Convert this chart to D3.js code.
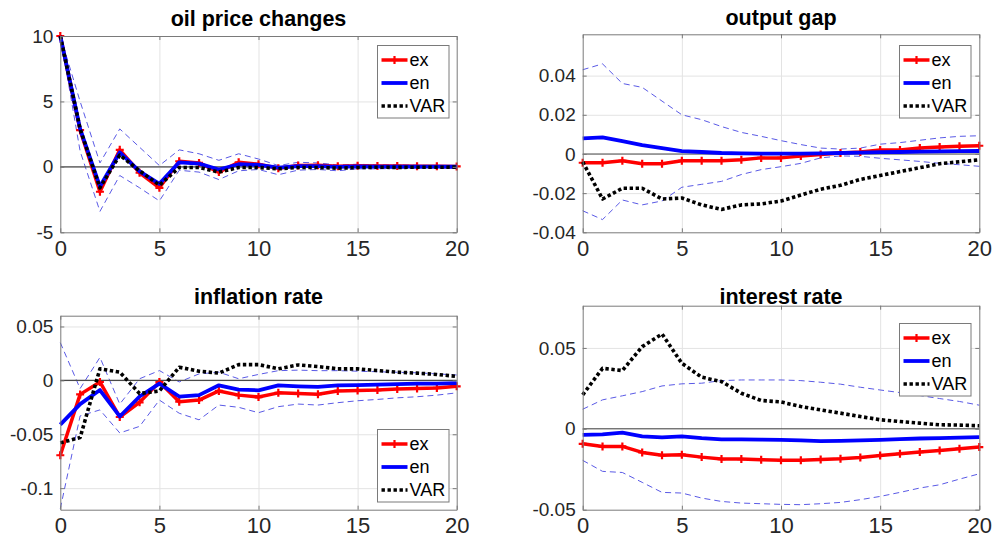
<!DOCTYPE html>
<html>
<head>
<meta charset="utf-8">
<script src="https://cdn.jsdelivr.net/npm/d3@7"></script>
<style>
  body { margin: 0; background: #fff; }
  svg { display: block; font-family: "Liberation Sans", Arial, sans-serif; }
</style>
</head>
<body>
<svg id="chart" width="994" height="538"></svg>
<script>

/////// Data

var horizon = [0, 1, 2, 3, 4, 5, 6, 7, 8, 9, 10, 11, 12, 13, 14, 15, 16, 17, 18, 19, 20];
var xTicks = [0, 5, 10, 15, 20];
var seriesNames = ['ex', 'en', 'VAR'];

// oil price changes
var oilEx  = [10, 2.8, -1.9, 1.3, -0.45, -1.6, 0.43, 0.3, -0.4, 0.35, 0.2, -0.1, 0.1, 0.12, 0.05, 0.08, 0.06, 0.07, 0.05, 0.05, 0.03];
var oilEn  = [10, 2.9, -1.5, 1.1, -0.35, -1.3, 0.35, 0.25, -0.2, 0.2, 0.15, -0.05, 0.05, 0.05, 0, 0.03, 0.02, 0.02, 0.02, 0.02, 0.01];
var oilVar = [10, 2.9, -1.6, 0.9, -0.3, -1.4, -0.05, -0.05, -0.4, -0.05, -0.05, -0.15, -0.05, -0.05, -0.1, -0.05, -0.03, -0.04, -0.03, -0.03, -0.02];
var oilUp  = [10, 5.0, 0.3, 2.9, 1.5, 0.1, 1.3, 1.0, 0.5, 1.0, 0.6, 0.1, 0.35, 0.3, 0.15, 0.2, 0.15, 0.15, 0.12, 0.1, 0.1];
var oilLo  = [10, 1.2, -3.4, -0.66, -1.6, -2.6, -0.26, -0.4, -0.97, -0.3, -0.2, -0.6, -0.25, -0.2, -0.3, -0.15, -0.15, -0.12, -0.1, -0.1, -0.08];
var oilRange = [-5, 10];
var oilTicks = [-5, 0, 5, 10];
var oilLabels = ['-5', '0', '5', '10'];

// output gap
var gapEx  = [-0.0045, -0.0045, -0.0035, -0.005, -0.005, -0.0035, -0.0035, -0.0035, -0.003, -0.002, -0.002, -0.001, -0.0003, 0.0005, 0.001, 0.002, 0.002, 0.003, 0.0035, 0.004, 0.0042];
var gapEn  = [0.008, 0.0085, 0.0065, 0.0045, 0.003, 0.0015, 0.001, 0.0005, 0.0003, 0.0002, 0.0002, 0.0002, 0.0003, 0.0005, 0.0007, 0.0009, 0.001, 0.0012, 0.0013, 0.0014, 0.0015];
var gapVar = [-0.004, -0.023, -0.0175, -0.0175, -0.023, -0.0225, -0.026, -0.0283, -0.026, -0.0255, -0.024, -0.021, -0.018, -0.016, -0.013, -0.011, -0.009, -0.007, -0.005, -0.004, -0.003];
var gapUp  = [0.043, 0.046, 0.036, 0.034, 0.027, 0.02, 0.0175, 0.014, 0.011, 0.009, 0.0068, 0.0048, 0.003, 0.0025, 0.003, 0.005, 0.0058, 0.007, 0.0082, 0.009, 0.0093];
var gapLo  = [-0.029, -0.0335, -0.0235, -0.026, -0.024, -0.017, -0.0155, -0.014, -0.0105, -0.008, -0.0065, -0.0048, -0.002, -0.001, -0.0012, -0.0022, -0.003, -0.0038, -0.0048, -0.0055, -0.0063];
var gapRange = [-0.04, 0.0611];
var gapTicks = [-0.04, -0.02, 0, 0.02, 0.04];
var gapLabels = ['-0.04', '-0.02', '0', '0.02', '0.04'];

// inflation rate
var infEx  = [-0.0695, -0.013, -0.0015, -0.034, -0.0204, -0.0015, -0.0198, -0.0183, -0.0098, -0.0137, -0.0155, -0.0116, -0.0122, -0.0128, -0.0098, -0.0095, -0.009, -0.008, -0.0076, -0.007, -0.0055];
var infEn  = [-0.041, -0.022, -0.009, -0.0335, -0.015, -0.003, -0.015, -0.0137, -0.0046, -0.0085, -0.0092, -0.0046, -0.0055, -0.006, -0.0046, -0.0045, -0.004, -0.0035, -0.003, -0.003, -0.0025];
var infVar = [-0.058, -0.053, 0.0107, 0.0076, -0.0122, -0.0098, 0.0122, 0.0085, 0.0067, 0.0146, 0.0146, 0.0107, 0.0143, 0.0128, 0.0107, 0.0107, 0.0091, 0.0076, 0.0067, 0.0055, 0.0037];
var infUp  = [0.035, -0.0076, 0.0213, -0.022, 0.0015, 0.0091, -0.0015, 0.006, 0.0076, 0.0015, 0.0055, 0.009, 0.0095, 0.009, 0.009, 0.0085, 0.008, 0.0075, 0.007, 0.006, 0.005];
var infLo  = [-0.119, -0.033, -0.0274, -0.0488, -0.0427, -0.0183, -0.0305, -0.0366, -0.0229, -0.025, -0.03, -0.0244, -0.022, -0.0229, -0.0207, -0.0189, -0.0177, -0.0162, -0.0152, -0.0137, -0.0116];
var infRange = [-0.12, 0.06];
var infTicks = [-0.1, -0.05, 0, 0.05];
var infLabels = ['-0.1', '-0.05', '0', '0.05'];

// interest rate
var irEx  = [-0.0093, -0.0109, -0.0109, -0.0146, -0.0163, -0.016, -0.0175, -0.0187, -0.0187, -0.0191, -0.0195, -0.0195, -0.019, -0.0185, -0.0177, -0.0165, -0.0154, -0.0144, -0.0134, -0.0123, -0.0113];
var irEn  = [-0.0037, -0.0035, -0.0023, -0.0047, -0.0053, -0.0047, -0.0058, -0.0065, -0.0065, -0.0067, -0.0068, -0.0072, -0.0076, -0.0074, -0.0071, -0.0068, -0.0064, -0.006, -0.0057, -0.0054, -0.0051];
var irVar = [0.021, 0.0374, 0.036, 0.0508, 0.0586, 0.0405, 0.0319, 0.0292, 0.022, 0.0175, 0.0166, 0.0138, 0.0117, 0.0097, 0.0076, 0.0056, 0.0045, 0.0035, 0.0025, 0.0023, 0.0019];
var irUp  = [0.0121, 0.0179, 0.0204, 0.023, 0.0265, 0.0278, 0.0282, 0.0298, 0.0302, 0.0302, 0.0302, 0.0298, 0.0288, 0.0276, 0.0257, 0.024, 0.0224, 0.0206, 0.0187, 0.0169, 0.0146];
var irLo  = [-0.0195, -0.0263, -0.027, -0.0331, -0.0393, -0.0397, -0.0428, -0.0449, -0.0459, -0.0463, -0.0467, -0.0469, -0.0463, -0.0455, -0.0438, -0.0418, -0.0393, -0.0366, -0.0346, -0.0311, -0.0278];
var irRange = [-0.05, 0.0761];
var irTicks = [-0.05, 0, 0.05];
var irLabels = ['-0.05', '0', '0.05'];

/////// Layout

var panels = [
  { title: 'oil price changes', ex: oilEx, en: oilEn, vr: oilVar, up: oilUp, lo: oilLo,
    range: oilRange, ticks: oilTicks, labels: oilLabels,
    box: { l: 60.3, t: 36, r: 456.7, b: 232.3 }, titleY: 25.5, xPad: 8.5, legend: { x: 377.5, y: 45.5 } },
  { title: 'output gap', ex: gapEx, en: gapEn, vr: gapVar, up: gapUp, lo: gapLo,
    range: gapRange, ticks: gapTicks, labels: gapLabels,
    box: { l: 582.7, t: 34.3, r: 979.3, b: 232.3 }, titleY: 25, xPad: 8.5, legend: { x: 899.5, y: 45.5 } },
  { title: 'inflation rate', ex: infEx, en: infEn, vr: infVar, up: infUp, lo: infLo,
    range: infRange, ticks: infTicks, labels: infLabels,
    box: { l: 60.3, t: 315.7, r: 456.7, b: 509.7 }, titleY: 303.5, xPad: 7.5, legend: { x: 377.5, y: 429.5 } },
  { title: 'interest rate', ex: irEx, en: irEn, vr: irVar, up: irUp, lo: irLo,
    range: irRange, ticks: irTicks, labels: irLabels,
    box: { l: 582.7, t: 305.7, r: 979.3, b: 509.7 }, titleY: 303.5, xPad: 7.5, legend: { x: 899.5, y: 323.5 } }
];

var styles = {
  ex:  { color: '#ff0000', width: 3.5, dash: null },
  en:  { color: '#0000ff', width: 3.8, dash: null },
  VAR: { color: '#000000', width: 3.6, dash: '3.4,2.6' }
};
var bandColor = '#5a5ae6';
var boxColor = '#7a7a7a';
var textColor = '#262626';
var plus = 'M-4,0H4M0,-4V4';

var svg = d3.select('#chart');

var drawPanel = function (p) {
  var x = d3.scaleLinear().domain([0, 20]).range([p.box.l, p.box.r]);
  var y = d3.scaleLinear().domain(p.range).range([p.box.b, p.box.t]);
  var w = p.box.r - p.box.l, h = p.box.b - p.box.t;
  var g = svg.append('g');

  g.append('rect')
      .attr('x', p.box.l).attr('y', p.box.t)
      .attr('width', w).attr('height', h)
      .attr('fill', '#fff');

  //// grid
  g.append('g')
      .attr('transform', 'translate(0,' + p.box.b + ')')
      .call(d3.axisBottom(x).tickValues(xTicks.slice(1, -1)).tickSize(-h).tickFormat(''))
      .call(function (s) { s.select('.domain').remove(); })
      .selectAll('line').attr('stroke', '#e3e3e3');
  g.append('g')
      .attr('transform', 'translate(' + p.box.l + ',0)')
      .call(d3.axisLeft(y).tickValues(p.ticks.filter(function (t) { return y(t) > p.box.t + 1 && y(t) < p.box.b - 1; })).tickSize(-w).tickFormat(''))
      .call(function (s) { s.select('.domain').remove(); })
      .selectAll('line').attr('stroke', '#e3e3e3');

  //// bands and zero line
  var line = d3.line()
      .x(function (d, i) { return x(horizon[i]); })
      .y(function (d) { return y(d); });

  [p.up, p.lo].forEach(function (band) {
    g.append('path')
        .attr('d', line(band))
        .attr('fill', 'none')
        .attr('stroke', bandColor)
        .attr('stroke-width', 1)
        .attr('stroke-dasharray', '6,4');
  });

  g.append('line')
      .attr('x1', p.box.l).attr('x2', p.box.r)
      .attr('y1', y(0)).attr('y2', y(0))
      .attr('stroke', '#4a4a4a')
      .attr('stroke-width', 1.1);

  //// series
  var series = [p.ex, p.en, p.vr];
  series.forEach(function (vals, k) {
    var st = styles[seriesNames[k]];
    g.append('path')
        .attr('d', line(vals))
        .attr('fill', 'none')
        .attr('stroke', st.color)
        .attr('stroke-width', st.width)
        .attr('stroke-linejoin', 'round')
        .attr('stroke-dasharray', st.dash);
    if (k === 0) {
      g.append('g').selectAll('path')
          .data(vals)
          .join('path')
              .attr('d', plus)
              .attr('transform', function (d, i) { return 'translate(' + x(horizon[i]) + ',' + y(d) + ')'; })
              .attr('stroke', st.color)
              .attr('stroke-width', 2.2);
    }
  });

  //// axes
  var axisStyle = function (s) {
    s.select('.domain').attr('stroke', boxColor);
    s.selectAll('.tick line').attr('stroke', boxColor);
    s.selectAll('text').attr('fill', textColor);
  };

  g.append('g')
      .attr('transform', 'translate(0,' + p.box.b + ')')
      .call(d3.axisBottom(x).tickValues(xTicks).tickSizeInner(-4).tickSizeOuter(0).tickPadding(p.xPad))
      .attr('font-size', 22).attr('font-family', null)
      .call(axisStyle);
  g.append('g')
      .attr('transform', 'translate(0,' + p.box.t + ')')
      .call(d3.axisTop(x).tickValues(xTicks).tickSizeInner(-4).tickSizeOuter(0).tickFormat(''))
      .call(axisStyle);
  g.append('g')
      .attr('transform', 'translate(' + p.box.l + ',0)')
      .call(d3.axisLeft(y).tickValues(p.ticks).tickFormat(function (d, i) { return p.labels[i]; })
          .tickSizeInner(-4).tickSizeOuter(0).tickPadding(7))
      .attr('font-size', 19).attr('font-family', null)
      .call(axisStyle);
  g.append('g')
      .attr('transform', 'translate(' + p.box.r + ',0)')
      .call(d3.axisRight(y).tickValues(p.ticks).tickSizeInner(-4).tickSizeOuter(0).tickFormat(''))
      .call(axisStyle);

  //// title
  g.append('text')
      .attr('x', (p.box.l + p.box.r) / 2)
      .attr('y', p.titleY)
      .attr('text-anchor', 'middle')
      .attr('font-size', 21.5)
      .attr('font-weight', 'bold')
      .attr('fill', '#000')
      .text(p.title);

  //// legend
  var lg = g.append('g')
      .attr('transform', 'translate(' + p.legend.x + ',' + p.legend.y + ')');
  lg.append('rect')
      .attr('width', 71.5).attr('height', 72.5)
      .attr('fill', '#fff')
      .attr('stroke', boxColor);
  seriesNames.forEach(function (name, k) {
    var st = styles[name];
    var cy = 14.5 + k * 23;
    lg.append('line')
        .attr('x1', 4).attr('x2', 30)
        .attr('y1', cy).attr('y2', cy)
        .attr('stroke', st.color)
        .attr('stroke-width', st.width)
        .attr('stroke-dasharray', st.dash);
    if (k === 0) {
      lg.append('path')
          .attr('d', plus)
          .attr('transform', 'translate(17,' + cy + ')')
          .attr('stroke', st.color)
          .attr('stroke-width', 2.2);
    }
    lg.append('text')
        .attr('x', 32)
        .attr('y', cy)
        .attr('dy', '0.35em')
        .attr('font-size', 18)
        .attr('fill', '#000')
        .text(name);
  });
};

panels.forEach(drawPanel);

</script>
</body>
</html>
